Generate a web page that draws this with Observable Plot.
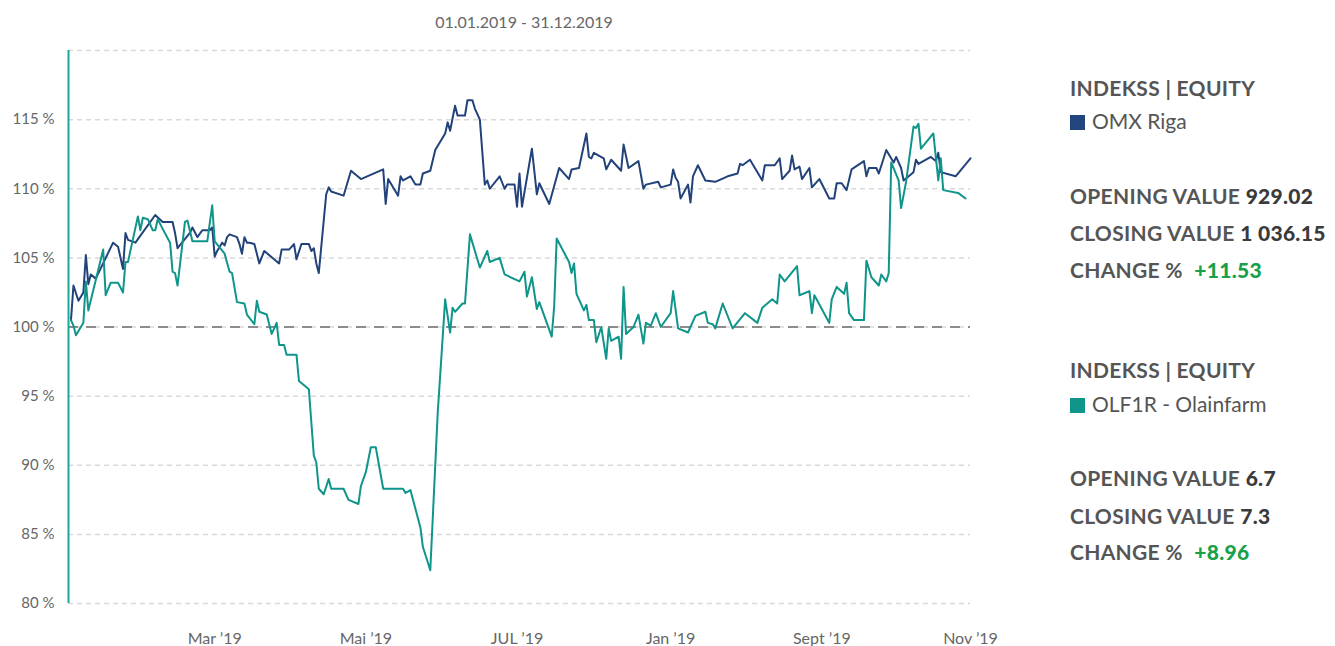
<!DOCTYPE html>
<html>
<head>
<meta charset="utf-8">
<script src="https://cdn.jsdelivr.net/npm/d3@7"></script>
<script src="https://cdn.jsdelivr.net/npm/@observablehq/plot@0.6"></script>
<style>
  html, body { margin: 0; padding: 0; background: #fff; }
  body { width: 1335px; height: 646px; position: relative; overflow: hidden; font-family: Lato, "Open Sans", sans-serif; color: #555; }
  #title { position: absolute; left: 73px; width: 902px; top: 12px; text-align: center; font-size: 16px; line-height: 20px; color: #666; }
  #chart { position: absolute; left: 0; top: 40px; }
  .p { position: absolute; left: 1070px; line-height: 24px; white-space: nowrap; }
  .h { font-weight: 700; font-size: 21px; color: #555; letter-spacing: 0.3px; }
  .leg { font-size: 21px; color: #555; }
  .sw { display: inline-block; width: 15px; height: 15px; margin-right: 7px; vertical-align: -1px; }
  .num { color: #3a3a3a; font-weight: 900; }
  .chg { color: #18a04a; font-weight: 900; margin-left: 6px; }
</style>
</head>
<body>
<div id="title">01.01.2019 - 31.12.2019</div>
<div id="chart"></div>
<div class="p h" style="top:76px">INDEKSS | EQUITY</div>
<div class="p leg" style="top:109px"><span class="sw" style="background:#22457e"></span>OMX Riga</div>
<div class="p h" style="top:184px">OPENING VALUE <span class="num">929.02</span></div>
<div class="p h" style="top:221px">CLOSING VALUE <span class="num">1 036.15</span></div>
<div class="p h" style="top:258px">CHANGE % <span class="chg">+11.53</span></div>
<div class="p h" style="top:358px">INDEKSS | EQUITY</div>
<div class="p leg" style="top:392px"><span class="sw" style="background:#0f958a"></span>OLF1R - Olainfarm</div>
<div class="p h" style="top:466px">OPENING VALUE <span class="num">6.7</span></div>
<div class="p h" style="top:504px">CLOSING VALUE <span class="num">7.3</span></div>
<div class="p h" style="top:540px">CHANGE % <span class="chg">+8.96</span></div>
<script>
// Day of year 2019 (0 = 1 Jan) and value in % of opening
const omxDays = [1,2,4,6,7,8,9,11,18,20,22,23,24,27,35,38,42,43,44,49,50,52,54,57,58,59,60,62,63,64,65,68,69,70,71,72,73,75,77,79,85,86,89,91,92,94,97,98,99,100,101,104,105,106,111,114,118,127,128,129,133,134,135,138,140,142,143,146,148,152,153,154,156,157,160,161,163,164,166,168,169,170,174,176,177,180,181,182,183,187,189,190,194,198,202,203,206,209,210,211,212,216,217,219,223,224,226,230,232,233,238,239,243,244,245,246,247,250,251,252,254,257,261,266,270,271,272,275,280,281,285,287,288,291,292,293,295,296,299,300,303,307,309,310,312,314,316,321,322,323,326,327,330,333,334,336,337,341,342,343,348,350,351,352,358,364];
const omxValues = [100.5,103.0,101.9,102.5,105.2,103.1,103.8,103.5,106.1,105.8,104.2,106.8,106.3,106.1,108.1,107.6,107.6,106.8,105.7,106.8,107.2,106.5,107.0,107.0,107.2,105.1,105.5,106.1,105.9,106.5,106.7,106.5,106.0,105.3,106.5,106.1,106.1,106.0,104.6,105.5,104.6,105.6,105.6,106.0,104.9,106.0,106.0,105.5,105.7,104.6,103.9,109.6,110.1,109.8,109.5,111.3,110.7,111.4,108.9,110.7,109.5,110.9,110.6,110.9,110.3,110.3,111.1,111.3,112.8,114.0,114.8,114.2,116.0,115.3,115.3,116.4,116.4,115.8,115.0,110.3,110.6,110.0,110.9,110.0,110.3,110.3,108.7,111.1,108.7,112.9,109.6,110.4,108.9,111.5,110.7,111.4,111.5,114.0,112.3,112.2,112.6,112.2,111.4,112.1,111.3,113.2,111.5,112.0,110.0,110.3,110.5,110.1,110.3,111.4,110.8,110.5,109.3,110.3,109.0,110.9,111.7,110.6,110.5,110.9,111.1,111.8,111.7,112.1,110.6,111.7,111.7,112.2,110.7,111.3,112.4,111.4,111.6,110.7,111.5,110.1,110.7,109.3,109.3,110.4,110.4,109.9,111.4,112.0,110.9,111.5,111.5,111.1,112.8,111.9,112.3,111.5,110.6,111.2,112.1,111.8,112.3,112.0,112.6,111.2,110.9,112.2];
const olfDays = [1,2,3,6,7,8,14,15,17,20,22,23,24,28,29,30,32,34,35,36,38,41,42,43,44,47,48,50,56,58,59,63,65,66,68,71,72,75,76,77,80,82,84,85,87,88,92,93,97,99,100,101,103,105,106,111,113,117,118,120,122,124,127,135,136,138,142,143,146,149,152,154,155,156,159,160,162,166,169,170,174,176,182,184,185,187,189,190,195,196,197,202,203,204,205,208,209,210,212,213,215,217,218,219,222,223,224,225,228,230,232,233,235,237,239,243,244,246,250,253,257,258,260,261,264,268,273,278,280,284,286,287,289,294,295,299,300,301,304,307,308,310,313,314,315,317,321,322,324,327,328,330,331,332,335,336,338,341,342,343,344,349,351,352,353,359,362];
const olfValues = [100.5,100.1,99.4,100.3,103.3,101.2,105.6,102.3,103.2,103.2,102.5,104.7,104.7,108.0,107.0,107.9,107.8,107.0,107.0,107.8,107.1,106.1,104.0,103.9,103.0,107.6,107.7,106.2,106.2,108.8,106.2,105.3,104.0,103.9,101.8,101.7,100.9,100.2,101.9,101.1,100.9,99.5,100.3,98.7,98.7,98.0,98.0,96.1,95.5,90.7,90.2,88.3,87.9,89.0,88.3,88.3,87.5,87.2,88.5,89.5,91.3,91.3,88.3,88.3,88.0,88.2,85.5,84.1,82.4,93.8,102.0,99.6,101.4,101.1,101.7,101.7,106.7,104.3,105.5,104.7,105.0,103.8,103.3,104.0,102.2,103.6,101.3,101.8,99.3,101.5,106.4,104.7,103.9,104.6,102.4,101.2,101.6,100.5,100.5,98.9,100.0,97.7,99.9,99.0,99.3,97.7,102.9,99.5,100.0,100.9,98.8,100.3,100.1,101.0,100.0,101.0,102.6,99.9,99.6,100.8,101.1,100.3,100.2,99.9,101.7,99.9,101.0,100.3,101.4,102.0,101.7,103.8,103.3,104.4,102.3,102.6,101.0,102.3,101.3,100.3,102.0,102.9,102.4,103.2,101.0,100.5,100.5,104.8,103.6,103.0,103.8,103.3,103.9,111.9,110.6,108.6,110.5,114.5,114.4,114.7,112.9,114.0,110.6,112.2,109.9,109.7,109.3];
const seriesNames = ["OMX Riga", "OLF1R - Olainfarm"];
const seriesColors = ["#22427a", "#0f958a"];
const yTicks = [80, 85, 90, 95, 100, 105, 110, 115];
const gridValues = [80, 85, 90, 95, 100, 105, 110, 115, 120];
const xTickDates = ["2019-03-01", "2019-05-01", "2019-07-01", "2019-09-01", "2019-11-01", "2019-12-31"];
const xTickLabels = ["Mar \u201919", "Mai \u201919", "JUL \u201919", "Jan \u201919", "Sept \u201919", "Nov \u201919"];

const start = new Date(Date.UTC(2019, 0, 1));
const end = new Date(Date.UTC(2019, 11, 31));
const toDate = d => d3.utcDay.offset(start, d);
const rows = [];
omxDays.forEach((d, i) => rows.push({date: toDate(d), value: omxValues[i], series: seriesNames[0]}));
olfDays.forEach((d, i) => rows.push({date: toDate(d), value: olfValues[i], series: seriesNames[1]}));
const tickDates = xTickDates.map(s => new Date(s + "T00:00:00Z"));
const labelOf = new Map(tickDates.map((d, i) => [+d, xTickLabels[i]]));

const chart = Plot.plot({
  width: 1000,
  height: 606,
  marginLeft: 68,
  marginRight: 30,
  marginTop: 10,
  marginBottom: 43,
  style: {fontFamily: "Lato, 'Open Sans', sans-serif", background: "transparent"},
  x: {type: "utc", domain: [start, end], axis: null},
  y: {domain: [80, 120], axis: null},
  color: {domain: seriesNames, range: seriesColors},
  marks: [
    Plot.ruleY(gridValues, {stroke: "#d9d9d9", strokeWidth: 1.5, strokeDasharray: "5,4"}),
    Plot.ruleY([100], {stroke: "#8c8c8c", strokeWidth: 2, strokeDasharray: "10,8"}),
    Plot.axisY(yTicks, {tickSize: 0, tickPadding: 14, label: null, tickFormat: d => `${d} %`, fontSize: 15, fill: "#666"}),
    Plot.axisX(tickDates, {tickSize: 0, tickPadding: 29, label: null, tickFormat: d => labelOf.get(+d), fontSize: 16, fill: "#666"}),
    Plot.line(rows, {x: "date", y: "value", z: "series", stroke: "series", strokeWidth: 2, curve: "linear"}),
    Plot.ruleX([start], {y1: 80, y2: 120, stroke: "#1aa89a", strokeWidth: 2})
  ]
});
document.getElementById("chart").appendChild(chart);
</script>
</body>
</html>
